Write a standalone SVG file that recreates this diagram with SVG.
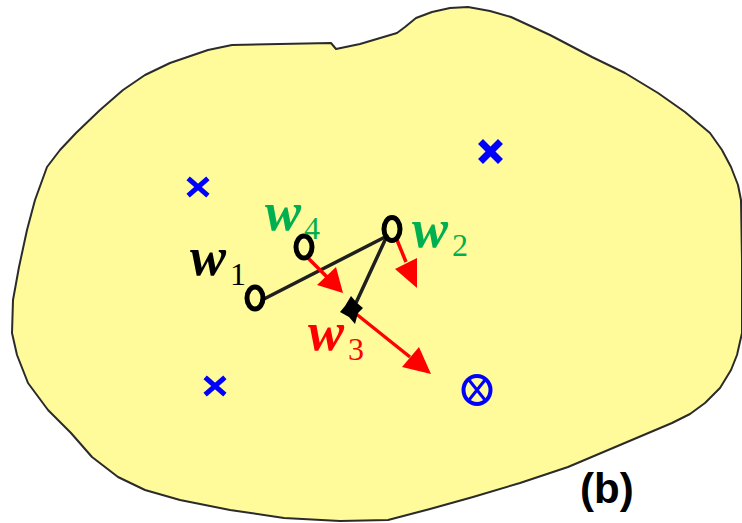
<svg xmlns="http://www.w3.org/2000/svg" width="742" height="523" viewBox="0 0 742 523">
<defs>
<style>
.blob{fill:#FFFB9A;stroke:#2b2b2b;stroke-width:2;stroke-linejoin:round}
.node{fill:none;stroke:#000;stroke-width:5}
.edge{stroke:#1f1f1f;stroke-width:3.5;fill:none;stroke-linecap:round}
.arr{stroke:#FF0000;stroke-width:3.5;fill:none}
.head{fill:#FF0000}
.cross{stroke:#0000FF;stroke-width:5;stroke-linecap:square}
.w{font-family:"Liberation Serif",serif;font-style:italic;font-weight:bold;font-size:54px}
.sub{font-family:"Liberation Serif",serif;font-size:32px}
</style>
</defs>
<path class="blob" d="M170,63 L208,50 L232,45 L331,43 L336,49 L360,44 L397,33 L405,27 L416,18 L432,12 L450,8 L468,7 L490,11 L511,17 L550,35 L592,57 L625,73 L658,93 L685,112 L710,133 L722,150 L731,167 L738,185 L741,200 L742,260 L742,333 L737,355 L731,370 L720,388 L705,403 L690,414 L672,423 L620,445 L568,467 L520,483 L473,497 L430,509 L388,520 L340,521 L284,518 L230,510 L180,500 L145,490 L118,477 L92,457 L71,433 L48,410 L28,383 L17,355 L12,333 L13,300 L19,267 L27,230 L35,200 L47,167 L60,150 L76,133 L100,110 L123,90 L145,75 Z"/>
<g id="markers">
<g id="cross1" class="cross"><line x1="190" y1="180" x2="206" y2="194"/><line x1="206" y1="180" x2="190" y2="194"/></g>
<g id="cross2" class="cross" style="stroke-width:7"><line x1="483" y1="144" x2="498" y2="159"/><line x1="498" y1="144" x2="483" y2="159"/></g>
<g id="cross3" class="cross"><line x1="207" y1="379" x2="223" y2="393"/><line x1="223" y1="379" x2="207" y2="393"/></g>
<g id="target" stroke="#0000FF" fill="none"><ellipse cx="477" cy="390" rx="13.5" ry="14" stroke-width="4"/><line x1="469" y1="380" x2="485" y2="400" stroke-width="3"/><line x1="485" y1="380" x2="469" y2="400" stroke-width="3"/></g>
</g>
<g id="connectors">
<line class="edge" x1="262" y1="300" x2="387" y2="236"/>
<line class="edge" x1="386" y1="238" x2="355" y2="305"/>
<line class="arr" x1="308" y1="258" x2="328" y2="278"/>
<polygon class="head" points="317,285 336,267 343,293"/>
<line class="arr" x1="397" y1="240" x2="406" y2="262"/>
<polygon class="head" points="395,269 417,258 417,288"/>
<line class="arr" x1="355" y1="313" x2="410" y2="357"/>
<polygon class="head" points="402,367 419,347 431,374"/>
</g>
<g id="w1">
<ellipse class="node" cx="255" cy="298" rx="8" ry="11"/>
<text x="190" y="275"><tspan class="w">w</tspan><tspan class="sub" x="230" y="285">1</tspan></text>
</g>
<g id="w4">
<ellipse class="node" cx="304" cy="247" rx="8" ry="11"/>
<text x="265" y="230" fill="#00B050"><tspan class="w">w</tspan><tspan class="sub" x="304" y="239">4</tspan></text>
</g>
<g id="w2">
<ellipse class="node" cx="392" cy="229" rx="8" ry="11.5"/>
<text x="412" y="247" fill="#00B050"><tspan class="w">w</tspan><tspan class="sub" x="452" y="256">2</tspan></text>
</g>
<g id="w3">
<polygon fill="#000" points="351,296 357,303 363,308 358,313 355,324 349,317 340,312 345,306"/>
<text x="308" y="350" fill="#FF0000"><tspan class="w">w</tspan><tspan class="sub" x="348" y="360">3</tspan></text>
</g>
<text x="580" y="503" font-family="'Liberation Sans',Arial,sans-serif" font-weight="bold" font-size="42">(b)</text>
</svg>
